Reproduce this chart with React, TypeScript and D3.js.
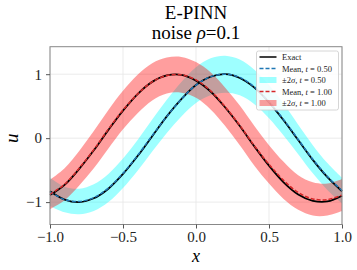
import { useEffect, useRef } from 'react';
import * as d3 from 'd3';

// sample grid on x
const xs = [-1.0, -0.9, -0.8, -0.7, -0.6, -0.5, -0.4, -0.3, -0.2, -0.1, 0.0, 0.1, 0.2, 0.3, 0.4, 0.5, 0.6, 0.7, 0.8, 0.9, 1.0];

// t = 0.50
const exactT05 = [-0.83, -0.96, -1.0, -0.94, -0.79, -0.56, -0.28, 0.03, 0.34, 0.61, 0.83, 0.96, 1.0, 0.94, 0.79, 0.56, 0.28, -0.03, -0.34, -0.61, -0.83];
const meanT05 = [-0.84, -0.96, -0.99, -0.93, -0.78, -0.55, -0.27, 0.04, 0.34, 0.61, 0.83, 0.96, 1.0, 0.95, 0.8, 0.57, 0.29, -0.02, -0.33, -0.6, -0.82];
const twoSigmaT05 = [0.22, 0.2, 0.2, 0.21, 0.22, 0.23, 0.24, 0.25, 0.26, 0.27, 0.28, 0.29, 0.29, 0.28, 0.27, 0.26, 0.25, 0.23, 0.22, 0.21, 0.2];

// t = 1.00
const exactT10 = [-0.89, -0.73, -0.48, -0.19, 0.13, 0.43, 0.69, 0.88, 0.98, 0.99, 0.9, 0.73, 0.48, 0.19, -0.13, -0.43, -0.69, -0.88, -0.98, -0.99, -0.9];
const meanT10 = [-0.88, -0.72, -0.47, -0.18, 0.14, 0.44, 0.69, 0.88, 0.98, 0.99, 0.91, 0.74, 0.49, 0.2, -0.12, -0.41, -0.66, -0.85, -0.95, -0.96, -0.89];
const twoSigmaT10 = [0.23, 0.25, 0.27, 0.29, 0.3, 0.3, 0.3, 0.29, 0.28, 0.28, 0.28, 0.29, 0.3, 0.31, 0.31, 0.3, 0.29, 0.27, 0.26, 0.25, 0.25];

const xTicks = [-1.0, -0.5, 0.0, 0.5, 1.0];
const yTicks = [-1, 0, 1];

const W = 357;
const H = 270;
const serif = 'Liberation Serif, DejaVu Serif, Times New Roman, serif';

export default function App() {
  const svgRef = useRef<SVGSVGElement>(null);

  useEffect(() => {
    if (!svgRef.current) return;
    const svg = d3.select(svgRef.current);
    svg.selectAll('*').remove();

    const left = 50, right = 342, top = 46.7, bottom = 224.5;

    const x = d3.scaleLinear().domain([-1, 1]).range([left, right]);
    const y = d3.scaleLinear().domain([-1.35, 1.43]).range([bottom, top]);

    // grid
    const grid = svg.append('g');
    grid.selectAll('.vg')
      .data(xTicks)
      .enter().append('line')
      .attr('x1', d => x(d)).attr('x2', d => x(d))
      .attr('y1', top).attr('y2', bottom)
      .attr('stroke', '#e6e6e6').attr('stroke-width', 0.8);
    grid.selectAll('.hg')
      .data(yTicks)
      .enter().append('line')
      .attr('x1', left).attr('x2', right)
      .attr('y1', d => y(d)).attr('y2', d => y(d))
      .attr('stroke', '#e6e6e6').attr('stroke-width', 0.8);

    const plot = svg.append('g');

    const band = (mean: number[], s2: number[]) =>
      d3.area<number>()
        .x((_, i) => x(xs[i]))
        .y0((_, i) => y(mean[i] - s2[i]))
        .y1((_, i) => y(mean[i] + s2[i]))
        .curve(d3.curveCatmullRom)(xs) as string;

    const line = (vals: number[]) =>
      d3.line<number>()
        .x((_, i) => x(xs[i]))
        .y(d => y(d))
        .curve(d3.curveCatmullRom)(vals) as string;

    // uncertainty bands
    plot.append('path').attr('d', band(meanT05, twoSigmaT05))
      .attr('fill', 'cyan').attr('opacity', 0.38);
    plot.append('path').attr('d', band(meanT10, twoSigmaT10))
      .attr('fill', 'red').attr('opacity', 0.38);

    // exact solutions
    [exactT05, exactT10].forEach(v => {
      plot.append('path').attr('d', line(v))
        .attr('fill', 'none').attr('stroke', 'black').attr('stroke-width', 1.8);
    });

    // means
    plot.append('path').attr('d', line(meanT05))
      .attr('fill', 'none').attr('stroke', '#1f77b4').attr('stroke-width', 1.5)
      .attr('stroke-dasharray', '4,2');
    plot.append('path').attr('d', line(meanT10))
      .attr('fill', 'none').attr('stroke', '#d62728').attr('stroke-width', 1.5)
      .attr('stroke-dasharray', '4,2');

    // frame
    svg.append('rect')
      .attr('x', left).attr('y', top)
      .attr('width', right - left).attr('height', bottom - top)
      .attr('fill', 'none').attr('stroke', '#888').attr('stroke-width', 1);

    // axes
    const xAxis = svg.append('g')
      .attr('transform', `translate(0,${bottom})`)
      .call(d3.axisBottom(x).tickValues(xTicks).tickSize(4).tickPadding(3)
        .tickFormat(d => d3.format('.1f')(d as number).replace('-', '\u2212')));
    xAxis.select('.domain').remove();
    xAxis.selectAll('line').attr('stroke', '#555');
    xAxis.selectAll('text')
      .attr('font-family', serif).attr('font-size', 15).attr('fill', '#222');

    const yAxis = svg.append('g')
      .attr('transform', `translate(${left},0)`)
      .call(d3.axisLeft(y).tickValues(yTicks).tickSize(4).tickPadding(4)
        .tickFormat(d => d3.format('d')(d as number).replace('-', '\u2212')));
    yAxis.select('.domain').remove();
    yAxis.selectAll('line').attr('stroke', '#555');
    yAxis.selectAll('text')
      .attr('font-family', serif).attr('font-size', 15).attr('fill', '#222');

    // axis labels
    svg.append('text')
      .attr('x', (left + right) / 2).attr('y', 262)
      .attr('text-anchor', 'middle')
      .attr('font-family', serif).attr('font-style', 'italic').attr('font-size', 18)
      .text('x');
    svg.append('text')
      .attr('transform', `translate(18,${y(0)}) rotate(-90)`)
      .attr('text-anchor', 'middle')
      .attr('font-family', serif).attr('font-style', 'italic').attr('font-size', 19)
      .text('u');

    // titles
    svg.append('text')
      .attr('x', (left + right) / 2).attr('y', 18.5)
      .attr('text-anchor', 'middle')
      .attr('font-family', serif).attr('font-size', 19)
      .text('E-PINN');
    const sub = svg.append('text')
      .attr('x', (left + right) / 2).attr('y', 39)
      .attr('text-anchor', 'middle')
      .attr('font-family', serif).attr('font-size', 19);
    sub.append('tspan').text('noise ');
    sub.append('tspan').attr('font-style', 'italic').text('ρ');
    sub.append('tspan').text('=0.1');

    // legend
    const lg = svg.append('g').attr('transform', 'translate(256.5,51)');
    lg.append('rect')
      .attr('width', 82).attr('height', 59).attr('rx', 2)
      .attr('fill', 'white').attr('fill-opacity', 0.85)
      .attr('stroke', '#ccc').attr('stroke-width', 0.8);

    const items = [
      { kind: 'line', color: 'black', dash: null, label: ['Exact'] },
      { kind: 'line', color: '#1f77b4', dash: '4,2', label: ['Mean, ', 't', ' = 0.50'] },
      { kind: 'patch', color: 'cyan', dash: null, label: ['±2', 'σ', ', ', 't', ' = 0.50'] },
      { kind: 'line', color: '#d62728', dash: '4,2', label: ['Mean, ', 't', ' = 1.00'] },
      { kind: 'patch', color: 'red', dash: null, label: ['±2', 'σ', ', ', 't', ' = 1.00'] },
    ];
    const italic = new Set(['t', 'σ']);
    const row = lg.selectAll('.item')
      .data(items)
      .enter().append('g')
      .attr('transform', (_, i) => `translate(0,${6 + i * 11.5})`);
    row.each(function (d) {
      const g = d3.select(this);
      if (d.kind === 'line') {
        g.append('line')
          .attr('x1', 3).attr('x2', 20).attr('y1', 0).attr('y2', 0)
          .attr('stroke', d.color).attr('stroke-width', 1.5)
          .attr('stroke-dasharray', d.dash);
      } else {
        g.append('rect')
          .attr('x', 3).attr('y', -3).attr('width', 17).attr('height', 6)
          .attr('fill', d.color).attr('opacity', 0.38);
      }
      const t = g.append('text')
        .attr('x', 25.5).attr('y', 3)
        .attr('font-family', serif).attr('font-size', 8.5).attr('fill', '#222');
      d.label.forEach(s => {
        t.append('tspan').attr('font-style', italic.has(s) ? 'italic' : 'normal').text(s);
      });
    });
  }, []);

  return (
    <div style={{ position: 'fixed', left: 0, top: 0, background: 'white' }}>
      <svg ref={svgRef} width={W} height={H} style={{ display: 'block' }} />
    </div>
  );
}
